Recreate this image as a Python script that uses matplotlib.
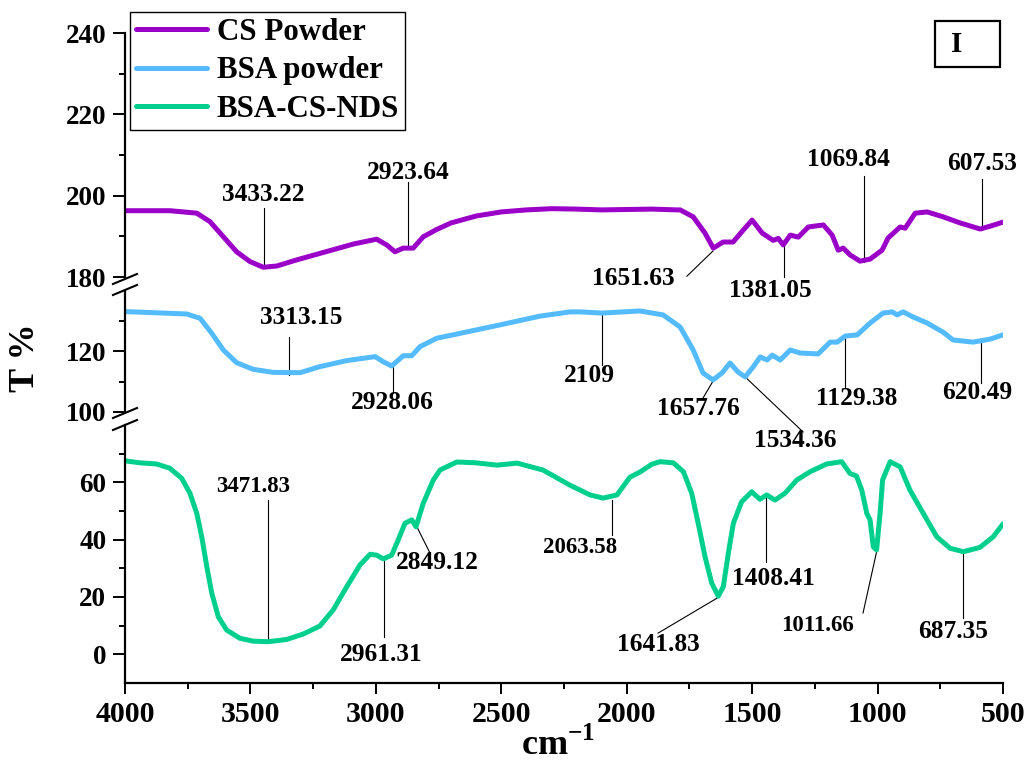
import numpy as np
import matplotlib
matplotlib.use('Agg')
import matplotlib.pyplot as plt
from matplotlib.lines import Line2D
from matplotlib.patches import Rectangle
from matplotlib.ticker import MultipleLocator, FixedLocator

plt.rcParams['font.family'] = ['Liberation Serif', 'DejaVu Serif']
plt.rcParams['font.weight'] = 'bold'
plt.rcParams['mathtext.fontset'] = 'custom'
plt.rcParams['mathtext.bf'] = 'Liberation Serif:bold'
plt.rcParams['mathtext.rm'] = 'Liberation Serif:bold'

# CS powder (top panel)
cs_wn = [4000, 3821, 3714, 3661, 3608, 3555, 3502, 3449, 3395, 3316, 3223, 3090, 2997,
         2957, 2924, 2891, 2851, 2811, 2757, 2700, 2600, 2500, 2400, 2300,
         2200, 2100, 2000, 1900, 1800, 1787, 1735, 1688, 1655, 1616, 1576, 1536, 1500,
         1460, 1416, 1396, 1376, 1348, 1316, 1276, 1216, 1181, 1157, 1137, 1109, 1070,
         1030, 982, 958, 910, 890, 850, 802, 739, 671, 591, 551, 500]
cs_t = [196.3, 196.3, 195.7, 193.6, 189.9, 186.2, 183.8, 182.4, 182.7, 184.2, 185.8, 188.1, 189.3,
        187.9, 186.2, 187.1, 187.1, 189.9, 191.7, 193.3, 195.0, 196.0, 196.5, 196.8,
        196.7, 196.5, 196.6, 196.7, 196.5, 196.5, 194.8, 190.8, 187.1, 188.6, 188.6, 191.5, 194.0,
        190.8, 189.0, 189.5, 187.9, 190.3, 189.8, 192.3, 192.8, 190.3, 186.6, 187.1, 185.4, 183.9,
        184.4, 186.6, 189.6, 192.3, 192.0, 195.7, 196.0, 194.8, 193.3, 191.8, 192.5, 193.5]

# BSA powder (middle panel)
bsa_wn = [4000, 3754, 3701, 3654, 3608, 3555, 3489, 3409, 3302, 3223, 3116, 3003, 2970,
          2937, 2891, 2857, 2824, 2757, 2704, 2505, 2345, 2226, 2186, 2098, 1947, 1855, 1787, 1735,
          1696, 1656, 1620, 1588, 1556, 1528, 1496, 1468, 1440, 1420, 1388, 1348, 1309,
          1237, 1189, 1161, 1129, 1081, 1030, 978, 942, 922, 898, 858, 802, 739, 699,
          619, 551, 500]
bsa_t = [133.2, 132.4, 131.0, 126.0, 120.5, 116.3, 114.1, 113.1, 113.0, 115.0, 117.0, 118.3, 116.6,
         115.2, 118.6, 118.6, 121.6, 124.4, 125.3, 128.8, 131.7, 133.1, 133.1, 132.7, 133.4, 132.1, 128.1, 120.5,
         112.9, 110.6, 112.9, 116.2, 113.2, 111.6, 114.9, 118.2, 117.2, 118.8, 117.2, 120.5, 119.5,
         119.2, 123.1, 123.1, 125.1, 125.5, 129.4, 132.7, 133.1, 132.1, 133.1, 131.4, 129.4, 126.4, 123.8,
         123.1, 124.1, 125.5]

# BSA-CS-NDS (bottom panel)
nds_wn = [4000, 3940, 3874, 3821, 3774, 3741, 3714, 3694, 3674, 3654, 3628, 3595, 3542,
          3489, 3429, 3355, 3289, 3223, 3170, 3116, 3063, 3023, 2997, 2970, 2937, 2911,
          2884, 2857, 2840, 2811, 2771, 2744, 2677, 2600, 2517, 2437, 2334, 2226, 2146,
          2094, 2039, 1987, 1947, 1900, 1867, 1814, 1774, 1741, 1715, 1688, 1661, 1635,
          1615, 1595, 1575, 1542, 1502, 1469, 1442, 1409, 1369, 1322, 1269, 1203, 1143,
          1110, 1084, 1063, 1043, 1030, 1017, 1004, 990, 980, 950, 910, 871, 818, 764,
          711, 658, 592, 539, 500]
nds_t = [67.5, 66.8, 66.4, 64.9, 61.4, 56.2, 49.2, 41.0, 30.6, 21.3, 13.1, 8.5, 5.6,
         4.6, 4.4, 5.2, 7.1, 9.9, 15.5, 23.6, 31.2, 34.9, 34.6, 33.3, 34.6, 39.9,
         45.7, 46.9, 44.5, 52.7, 60.8, 64.3, 67.1, 66.8, 66.0, 66.7, 64.3, 59.0, 55.6,
         54.5, 55.6, 61.8, 63.6, 66.3, 67.2, 66.8, 63.7, 56.2, 45.7, 34.1, 24.8, 20.3,
         23.6, 35.2, 45.7, 53.2, 56.7, 54.1, 55.6, 53.8, 56.2, 60.8, 63.7, 66.4, 67.2,
         63.1, 62.2, 57.3, 49.2, 46.9, 37.5, 36.4, 49.2, 60.8, 67.2, 65.4, 57.3, 49.2, 41.0,
         37.0, 35.8, 37.3, 41.0, 45.5]

# peak labels: text, text x, text y, leader line x0, y0, x1, y1
cs_peaks = [("3433.22", 3450, 200.2, 3446, 197.0, 3446, 182.5),
            ("2923.64", 2872, 205.8, 2872, 203.4, 2872, 187.4),
            ("1651.63", 1975, 179.7, 1760, 180.2, 1656, 186.4),
            ("1381.05", 1429, 176.8, 1373, 180.0, 1373, 187.9),
            ("1069.84", 1118, 208.8, 1054, 204.8, 1054, 183.7),
            ("607.53", 584, 208.0, 584, 204.1, 584, 191.6)]
bsa_peaks = [("3313.15", 3298, 131.1, 3346, 124.8, 3346, 112.2),
             ("2928.06", 2936, 103.0, 2932, 114.9, 2932, 106.3),
             ("2109", 2150, 112.2, 2099, 132.7, 2099, 115.5),
             ("1657.76", 1716, 101.3, 1696, 104.6, 1656, 110.2),
             ("1534.36", 1329, 90.7, 1528, 111.6, 1297, 93.4),
             ("1129.38", 1082, 104.6, 1130, 124.8, 1130, 107.9),
             ("620.49", 604, 106.6, 588, 123.1, 588, 109.6)]
nds_peaks = [("3471.83", 3490, 58.4, 3430, 53.8, 3430, 4.6),
             ("2961.31", 2979, -0.2, 2968, 6.0, 2968, 32.9),
             ("2849.12", 2756, 32.2, 2836, 44.4, 2784, 35.3),
             ("2063.58", 2186, 37.1, 2059, 53.8, 2059, 41.6),
             ("1641.83", 1875, 3.3, 1875, 7.4, 1640, 19.6),
             ("1408.41", 1417, 26.6, 1445, 54.9, 1445, 32.2),
             ("1011.66", 1241, 9.9, 1058, 14.4, 998, 38.1),
             ("687.35", 699, 7.8, 660, 35.7, 660, 12.7)]
small_labels = {"3471.83", "2063.58", "1011.66"}

W, H = 1031, 767
fig = plt.figure(figsize=(W / 100, H / 100), dpi=100)


def px_rect(top, bottom, left=125, right=1003):
    return [left / W, 1 - bottom / H, (right - left) / W, (bottom - top) / H]


ax_top = fig.add_axes(px_rect(33, 277))
ax_mid = fig.add_axes(px_rect(291, 412), sharex=ax_top)
ax_bot = fig.add_axes(px_rect(425, 683), sharex=ax_top)

style = dict(lw=3.6, solid_joinstyle='round', solid_capstyle='round')
l1, = ax_top.plot(cs_wn, cs_t, color='#9A00C8', label='CS Powder', **style)
l2, = ax_mid.plot(bsa_wn, bsa_t, color='#55BBFF', label='BSA powder', **style)
l3, = ax_bot.plot(nds_wn, nds_t, color='#00D08C', label='BSA-CS-NDS', **style)

ax_top.set_ylim(180, 240)
ax_mid.set_ylim(100, 140)
ax_bot.set_ylim(-10, 80)
ax_bot.set_xlim(4000, 500)

ax_top.yaxis.set_major_locator(FixedLocator([180, 200, 220, 240]))
ax_top.yaxis.set_minor_locator(FixedLocator([190, 210, 230]))
ax_mid.yaxis.set_major_locator(FixedLocator([100, 120]))
ax_mid.yaxis.set_minor_locator(FixedLocator([110, 130]))
ax_bot.yaxis.set_major_locator(FixedLocator([0, 20, 40, 60]))
ax_bot.yaxis.set_minor_locator(FixedLocator([10, 30, 50, 70]))
ax_bot.xaxis.set_major_locator(MultipleLocator(500))
ax_bot.xaxis.set_minor_locator(MultipleLocator(250))

for ax in (ax_top, ax_mid, ax_bot):
    ax.patch.set_alpha(0)
    ax.spines['top'].set_visible(False)
    ax.spines['right'].set_visible(False)
    ax.spines['left'].set_linewidth(1.6)
    ax.spines['bottom'].set_linewidth(1.6)
    ax.tick_params(axis='y', which='major', direction='out', length=8.5, width=1.4,
                   labelsize=19.5, pad=5)
    ax.tick_params(axis='y', which='minor', direction='out', length=4, width=1.4)
    for t in ax.get_yticklabels():
        t.set_fontweight('bold')

for ax in (ax_top, ax_mid):
    ax.spines['bottom'].set_visible(False)
    ax.tick_params(axis='x', which='both', bottom=False, labelbottom=False)

ax_bot.tick_params(axis='x', which='major', direction='out', length=8, width=1.4,
                   labelsize=21.5, pad=5)
ax_bot.tick_params(axis='x', which='minor', direction='out', length=4.5, width=1.4)

for ax, peaks in ((ax_top, cs_peaks), (ax_mid, bsa_peaks), (ax_bot, nds_peaks)):
    for lab, tx, ty, x0, y0, x1, y1 in peaks:
        ax.plot([x0, x1], [y0, y1], color='black', lw=0.8, clip_on=False, zorder=1)
        size = 16.5 if lab in small_labels else 18.3
        ax.text(tx, ty, lab, ha='center', va='center', fontsize=size,
                fontweight='bold', clip_on=False)

# axis break marks
for y0 in (279, 290, 413, 425):
    fig.add_artist(Line2D([113 / W, 137 / W], [1 - (y0 + 5) / H, 1 - (y0 - 5) / H],
                          color='black', lw=1.5))

leg = ax_top.legend(handles=[l1, l2, l3], loc='upper left',
                    bbox_to_anchor=(130 / W, 1 - 12 / H), bbox_transform=fig.transFigure,
                    borderaxespad=0, handlelength=2.3, handletextpad=0.3,
                    borderpad=0.2, labelspacing=0.3, fancybox=False, framealpha=1,
                    edgecolor='black', prop={'weight': 'bold', 'size': 22.3})
leg.get_frame().set_linewidth(1.0)

fig.add_artist(Rectangle((935 / W, 1 - 67 / H), 65 / W, 46 / H, transform=fig.transFigure,
                         fill=False, lw=1.6, edgecolor='black'))
fig.text(957 / W, 1 - 44 / H, 'I', ha='center', va='center', fontsize=21, fontweight='bold')

fig.text(25 / W, 1 - 358 / H, 'T %', rotation=90, ha='center', va='center',
         fontsize=26, fontweight='bold')
fig.text(558 / W, 1 - 745 / H, r'cm$^{\mathbf{-1}}$', ha='center', va='center',
         fontsize=26, fontweight='bold')

fig.savefig('out.png', dpi=100)
